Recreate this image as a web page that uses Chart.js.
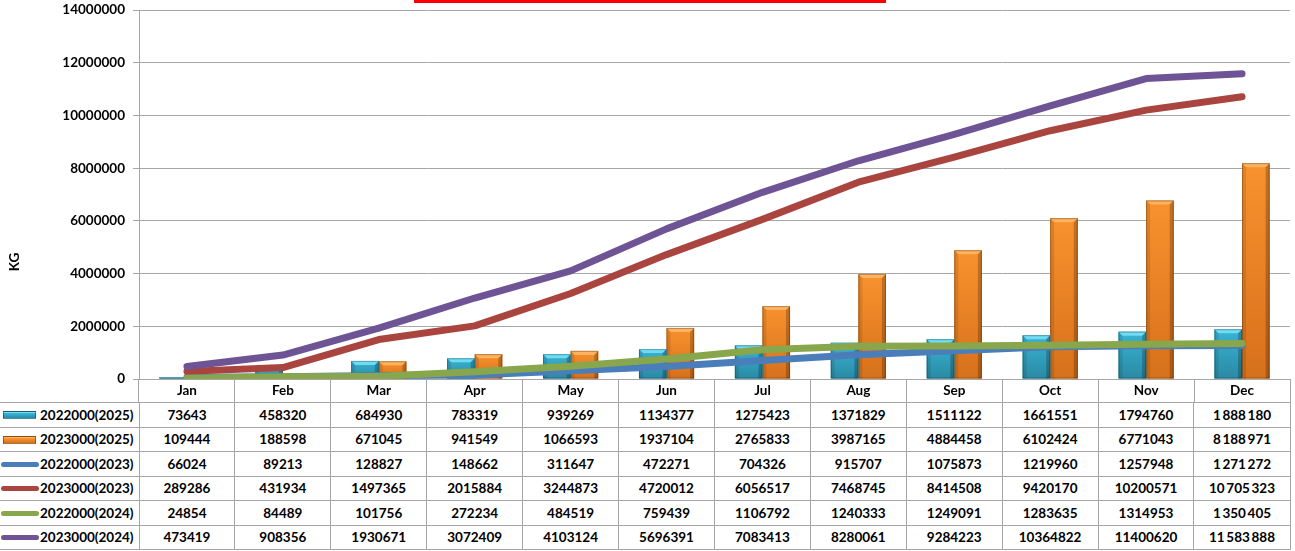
<!DOCTYPE html>
<html>
<head>
<meta charset="utf-8">
<script src="https://cdn.jsdelivr.net/npm/chart.js@4.4.1/dist/chart.umd.min.js"></script>
<style>
  body { margin: 0; background: #fff; font-family: Lato, "Liberation Sans", sans-serif; }
  #wrap { position: relative; width: 1295px; height: 551px; overflow: hidden; }
  #chart { position: absolute; left: 0; top: 0; }
  #redbar { position: absolute; left: 414px; top: 0; width: 472px; height: 3px; background: #ff0000; }
  #kg { position: absolute; left: 14px; top: 262px; transform: translate(-50%, -50%) rotate(-90deg);
        font-weight: 700; font-size: 13.5px; color: #000; }
  #tbl { position: absolute; left: 0; top: 402px; border-collapse: collapse; table-layout: fixed;
         font-weight: 700; font-size: 13.5px; color: #000; }
  #tbl td { border: 1px solid #a6a6a6; padding: 0; text-align: center; white-space: nowrap; overflow: hidden; }
  #tbl tr { height: 24.5px; }
  #tbl td.lab { text-align: left; border-left: none; }
  .key { display: inline-block; vertical-align: middle; position: relative; top: -1px; }
  .key.bar { width: 31px; height: 6px; margin: 0 4px 0 3px; border: 1px solid rgba(0,0,0,0.35); }
  .key.line { width: 38px; height: 5px; margin: 0 1px 0 1px; border-radius: 3px; }
</style>
</head>
<body>
<div id="wrap">
  <canvas id="chart" width="1295" height="402"></canvas>
  <div id="redbar"></div>
  <div id="kg">KG</div>
  <table id="tbl"></table>
</div>
<script>
const months = ["Jan", "Feb", "Mar", "Apr", "May", "Jun", "Jul", "Aug", "Sep", "Oct", "Nov", "Dec"];

const seriesNames = ["2022000(2025)", "2023000(2025)", "2022000(2023)", "2023000(2023)", "2022000(2024)", "2023000(2024)"];

const bars2022_2025 = [73643, 458320, 684930, 783319, 939269, 1134377, 1275423, 1371829, 1511122, 1661551, 1794760, 1888180];
const bars2023_2025 = [109444, 188598, 671045, 941549, 1066593, 1937104, 2765833, 3987165, 4884458, 6102424, 6771043, 8188971];
const line2022_2023 = [66024, 89213, 128827, 148662, 311647, 472271, 704326, 915707, 1075873, 1219960, 1257948, 1271272];
const line2023_2023 = [289286, 431934, 1497365, 2015884, 3244873, 4720012, 6056517, 7468745, 8414508, 9420170, 10200571, 10705323];
const line2022_2024 = [24854, 84489, 101756, 272234, 484519, 759439, 1106792, 1240333, 1249091, 1283635, 1314953, 1350405];
const line2023_2024 = [473419, 908356, 1930671, 3072409, 4103124, 5696391, 7083413, 8280061, 9284223, 10364822, 11400620, 11583888];

const yMin = 0, yMax = 14000000, yStep = 2000000;

const FONT = { family: "Lato, 'Liberation Sans', sans-serif", size: 13.5, weight: "bold" };
const GRID = "#a6a6a6";

// bar faces with an Excel-like bevel, drawn over the plain bars
function poly(ctx, pts, fill) {
  ctx.beginPath();
  ctx.moveTo(pts[0][0], pts[0][1]);
  pts.slice(1).forEach(p => ctx.lineTo(p[0], p[1]));
  ctx.closePath();
  ctx.fillStyle = fill;
  ctx.fill();
}

const bevel = {
  id: "bevel",
  afterDatasetDraw(chart, args) {
    const ds = chart.data.datasets[args.index];
    if (!ds.faceTop) return;
    const ctx = chart.ctx, ca = chart.chartArea;
    ctx.save();
    ctx.beginPath();
    ctx.rect(ca.left, ca.top, ca.right - ca.left, ca.bottom - ca.top);
    ctx.clip();
    args.meta.data.forEach(el => {
      const { x, y, base, width } = el.getProps(["x", "y", "base", "width"], true);
      const l = x - width / 2, r = x + width / 2;
      const t = Math.min(y, base), b = Math.max(y, base);
      const h = b - t;
      if (h < 0.5) return;
      const c = Math.min(4, h / 2);
      const g = ctx.createLinearGradient(0, t, 0, b);
      g.addColorStop(0, ds.faceTop);
      g.addColorStop(1, ds.faceBottom);
      ctx.fillStyle = g;
      ctx.fillRect(l, t, width, h);
      poly(ctx, [[l, t], [r, t], [r - c, t + c], [l + c, t + c]], ds.capColor);
      poly(ctx, [[l, t], [l + c, t + c], [l + c, b], [l, b]], "rgba(0,0,0,0.10)");
      poly(ctx, [[r, t], [r - c, t + c], [r - c, b], [r, b]], "rgba(0,0,0,0.22)");
      ctx.strokeStyle = "rgba(0,0,0,0.25)";
      ctx.lineWidth = 1;
      ctx.strokeRect(l + 0.5, t + 0.5, width - 1, h - 1);
    });
    ctx.restore();
  }
};

function lineSet(label, data, color, order) {
  return {
    type: "line", label, data, order,
    borderColor: color, backgroundColor: color,
    borderWidth: 7, borderCapStyle: "round", borderJoinStyle: "round",
    pointRadius: 0, tension: 0, fill: false
  };
}

const datasets = [
  {
    type: "bar", label: seriesNames[0], data: bars2022_2025, order: 5,
    backgroundColor: "#2f9fbd", faceTop: "#39b4d4", faceBottom: "#2a8aa4", capColor: "#72dbf4",
    barPercentage: 1, categoryPercentage: 0.575
  },
  {
    type: "bar", label: seriesNames[1], data: bars2023_2025, order: 6,
    backgroundColor: "#ee8427", faceTop: "#f8922e", faceBottom: "#d6711c", capColor: "#fbb262",
    barPercentage: 1, categoryPercentage: 0.575
  },
  lineSet(seriesNames[2], line2022_2023, "#4a7ebb", 4),
  lineSet(seriesNames[3], line2023_2023, "#a9443f", 3),
  lineSet(seriesNames[4], line2022_2024, "#88a64b", 2),
  lineSet(seriesNames[5], line2023_2024, "#6e5495", 1)
];

const chart = new Chart(document.getElementById("chart"), {
  data: { labels: months, datasets },
  plugins: [bevel],
  options: {
    responsive: false,
    animation: false,
    layout: { padding: { top: 10, right: 5, left: 0, bottom: 0 } },
    plugins: { legend: { display: false }, tooltip: { enabled: false } },
    scales: {
      x: {
        grid: { offset: true, drawOnChartArea: false, color: GRID, tickLength: 23, tickColor: GRID },
        border: { color: GRID },
        ticks: { font: FONT, color: "#000", padding: -19, maxRotation: 0 },
        afterFit(s) { s.height = 23; }
      },
      y: {
        min: yMin, max: yMax,
        grid: { color: GRID, tickLength: 6, tickColor: GRID },
        border: { color: GRID },
        ticks: { stepSize: yStep, font: FONT, color: "#000", padding: 8, callback: v => String(v) },
        afterFit(s) { s.width = 139; s.paddingTop = 0; s.paddingBottom = 0; }
      }
    }
  }
});

// data table under the plot, columns lined up with the category bands
function fmt(v, col) {
  const s = String(v);
  return col === months.length - 1 ? s.replace(/\B(?=(\d{3})+(?!\d))/g, "\u2009") : s;
}

const ca = chart.chartArea;
const colW = (ca.right - ca.left) / months.length;
const tbl = document.getElementById("tbl");
tbl.style.width = (ca.right + 0.5) + "px";
let html = "<colgroup><col style='width:" + ca.left + "px'>";
months.forEach(() => { html += "<col style='width:" + colW + "px'>"; });
html += "</colgroup>";
datasets.forEach(ds => {
  let key;
  if (ds.type === "bar") {
    key = "<span class='key bar' style='background:linear-gradient(" + ds.capColor + " 0 25%," + ds.faceTop + " 25%," + ds.faceBottom + ")'></span>";
  } else {
    key = "<span class='key line' style='background:" + ds.borderColor + "'></span>";
  }
  html += "<tr><td class='lab'>" + key + ds.label + "</td>";
  ds.data.forEach((v, i) => { html += "<td>" + fmt(v, i) + "</td>"; });
  html += "</tr>";
});
tbl.innerHTML = html;
</script>
</body>
</html>
